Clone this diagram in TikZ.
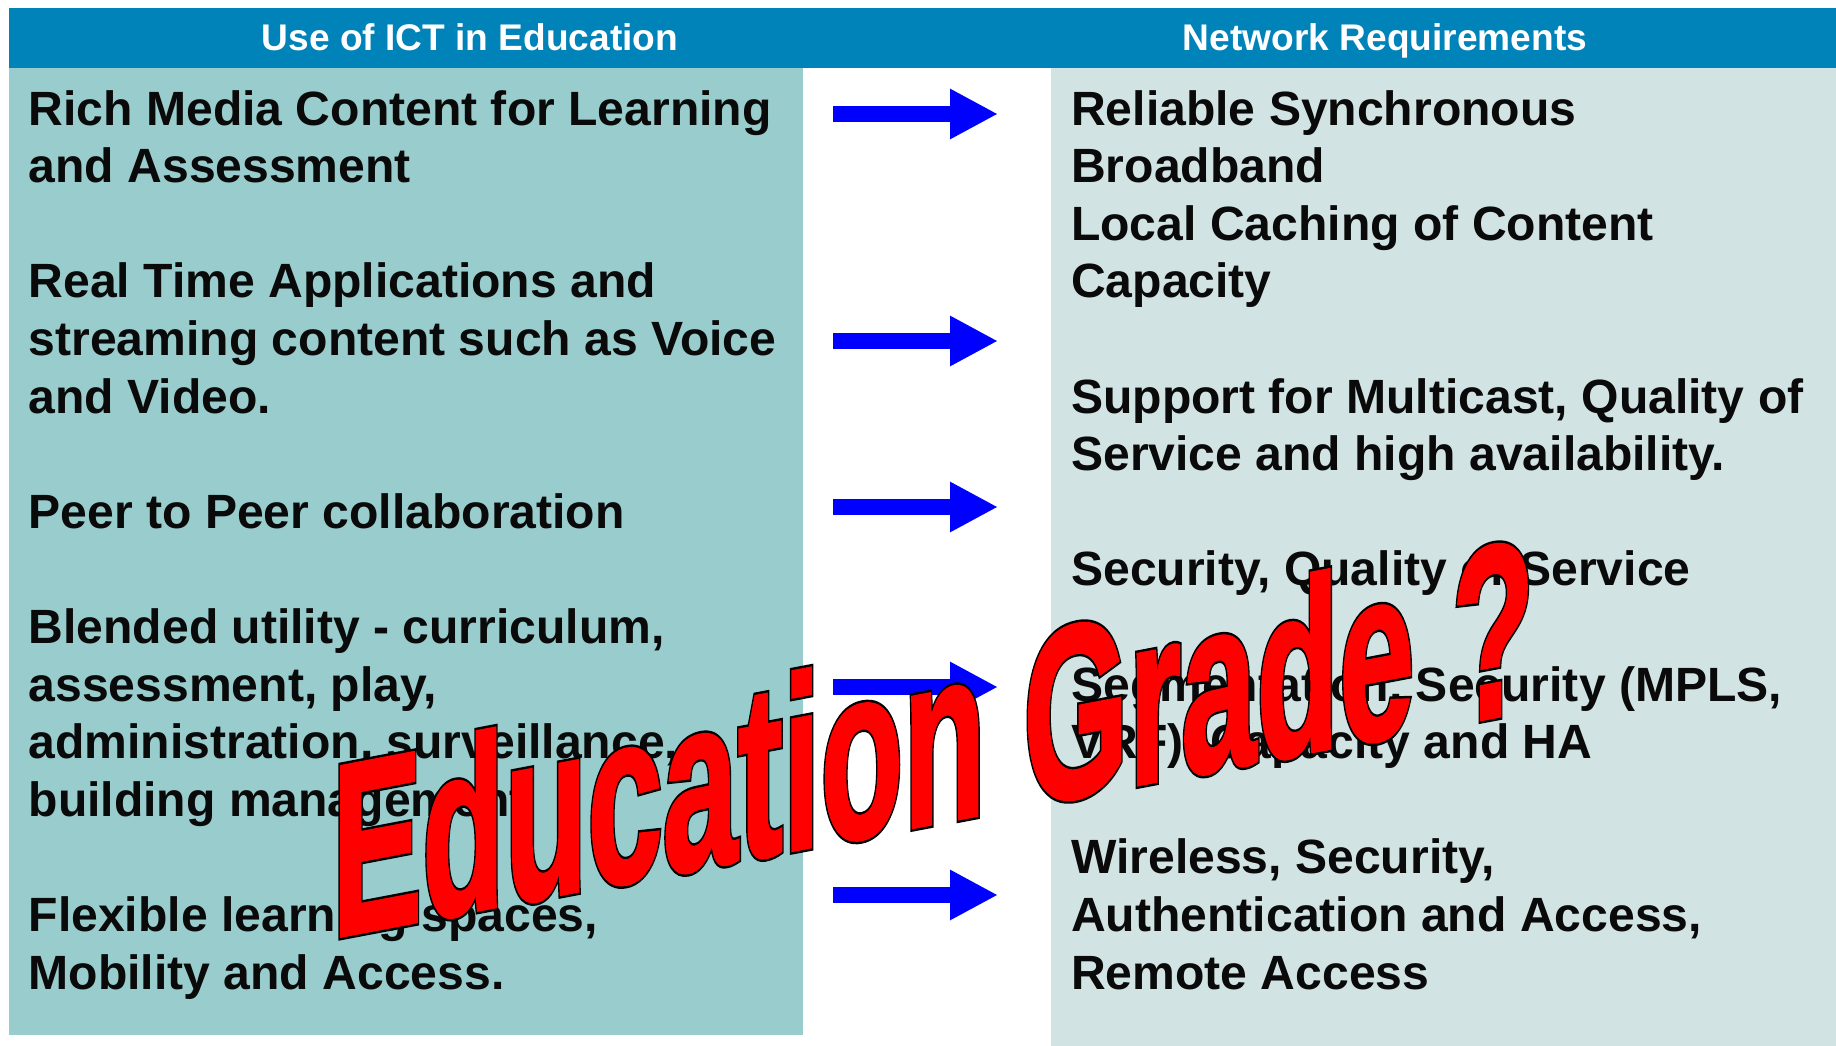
\documentclass[tikz,border=0pt]{standalone}
\usepackage{fontspec}
\setmainfont{Liberation Sans}
\newfontfamily\waback{Liberation Sans Bold}[FakeBold=3.5]
\newfontfamily\wafront{Liberation Sans Bold}[FakeBold=1.5]
\usetikzlibrary{arrows.meta}
\definecolor{hdrblue}{RGB}{0,131,184}
\definecolor{leftbg}{RGB}{153,204,204}
\definecolor{rightbg}{RGB}{210,227,227}
\definecolor{txt}{RGB}{10,10,10}
\definecolor{arrowblue}{RGB}{0,0,255}
\definecolor{wordred}{RGB}{255,0,0}
\tikzset{
  hdrtext/.style={font=\bfseries\fontsize{37.1}{40}\selectfont, text=white, inner sep=0, anchor=base},
  bodytext/.style={font=\bfseries\fontsize{48.1}{57.6}\selectfont, text=txt, inner sep=0, anchor=base west},
  blockarrow/.style={draw=arrowblue, line width=16pt, -{Triangle[length=48pt,width=47pt]}},
  wordart/.style={anchor=base west, inner sep=0, transform shape},
}
\begin{document}
\begin{tikzpicture}[x=1pt,y=-1pt]
\useasboundingbox (0,0) rectangle (1836,1046);
\fill[white] (0,0) rectangle (1836,1046);
% header bar
\fill[hdrblue] (9,8) rectangle (1836,68);
% panels
\fill[leftbg] (9,68) rectangle (803,1035);
\fill[rightbg] (1051,68) rectangle (1836,1046);
% headers
\node[hdrtext] (hl) at (470,50.7) {Use of ICT in Education};
\node[hdrtext] (hr) at (1385,50.7) {Network Requirements};
% left texts
\foreach \k/\t [count=\i] in {
  0/{Rich Media Content for Learning},
  1/{and Assessment},
  3/{Real Time Applications and},
  4/{streaming content such as Voice},
  5/{and Video.},
  7/{Peer to Peer collaboration},
  9/{Blended utility - curriculum,},
  10/{assessment, play,},
  11/{administration, surveillance,},
  12/{building management},
  14/{Flexible learning spaces,},
  15/{Mobility and Access.}}
  \node[bodytext] (L\i) at (28.5,125+57.6*\k) {\t};
% right texts
\foreach \k/\t [count=\i] in {
  0/{Reliable Synchronous},
  1/{Broadband},
  2/{Local Caching of Content},
  3/{Capacity},
  5/{Support for Multicast, Quality of},
  6/{Service and high availability.},
  8/{Security, Quality of Service},
  10/{Segmentation, Security (MPLS,},
  11/{VRF), Capacity and HA},
  13/{Wireless, Security,},
  14/{Authentication and Access,},
  15/{Remote Access}}
  \node[bodytext] (R\i) at (1071,125+57.6*\k) {\t};
% arrows
\foreach \y [count=\i] in {114,341,507,687,895} {
  \coordinate (as\i) at (833,\y);
  \coordinate (ae\i) at (998,\y);
  \draw[blockarrow] (as\i) -- (ae\i);
}
% word art: black emboldened copy under the red text gives the outline
\begin{scope}[shift={(331.7,937.7)}, yslant=0.19, xscale=0.55]
\node[wordart, text=black, font=\waback\fontsize{246}{250}\selectfont] (gradeedge) at (0,0) {Education Grade ?};
\node[wordart, text=wordred, font=\wafront\fontsize{246}{250}\selectfont] (grade) at (0,0) {Education Grade ?};
\end{scope}
\end{tikzpicture}
\end{document}
